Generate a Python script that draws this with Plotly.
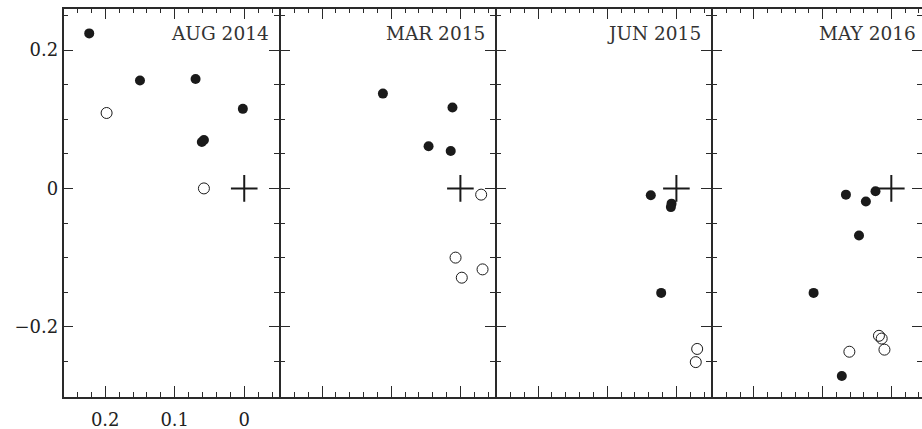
import plotly.graph_objects as go

W, H = 922, 429

panels = ["AUG 2014", "MAR 2015", "JUN 2015", "MAY 2016"]

filled_x = [
    [0.223, 0.150, 0.070, 0.002, 0.061, 0.058],
    [0.112, 0.0115, 0.046, 0.014],
    [0.037, 0.007, 0.008, 0.022],
    [0.066, 0.037, 0.023, 0.047, 0.113, 0.072],
]
filled_y = [
    [0.224, 0.156, 0.158, 0.115, 0.067, 0.070],
    [0.137, 0.117, 0.061, 0.054],
    [-0.010, -0.022, -0.027, -0.151],
    [-0.009, -0.019, -0.004, -0.068, -0.151, -0.271],
]
open_x = [
    [0.198, 0.058],
    [-0.030, 0.007, -0.032, -0.002],
    [-0.030, -0.028],
    [0.061, 0.018, 0.014, 0.010],
]
open_y = [
    [0.109, 0.000],
    [-0.009, -0.100, -0.117, -0.129],
    [-0.232, -0.251],
    [-0.236, -0.213, -0.217, -0.233],
]
center_x = [0.0, 0.0, 0.0, 0.0]
center_y = [0.0, 0.0, 0.0, 0.0]

x_ranges = [[0.26, -0.05], [0.26, -0.05], [0.26, -0.05], [0.26, -0.0446]]
y_range = [-0.301, 0.26]

LW = 1.5
starts_px = [63.5, 279.0 + LW, 495.0 + LW, 711.0 + LW]
ends_px = [279.0, 495.0, 711.0, 922.0]
y_dom = [(H - 396.7) / H, (H - 8.5) / H]

ink = "#1a1a1a"
axc = "#2a2a2a"
font = dict(family="DejaVu Serif", size=18, color="#222222")

fig = go.Figure()
layout = dict(
    width=W, height=H,
    margin=dict(l=0, r=0, t=0, b=0),
    paper_bgcolor="white", plot_bgcolor="white",
    showlegend=False,
    font=font,
)
annotations = []
for i in range(4):
    xa = "x" if i == 0 else f"x{i+1}"
    ya = "y" if i == 0 else f"y{i+1}"
    fig.add_trace(go.Scatter(
        x=filled_x[i], y=filled_y[i], mode="markers", xaxis=xa, yaxis=ya,
        marker=dict(symbol="circle", size=10, color=ink, line=dict(width=0)),
    ))
    fig.add_trace(go.Scatter(
        x=open_x[i], y=open_y[i], mode="markers", xaxis=xa, yaxis=ya,
        marker=dict(symbol="circle-open", size=11, color=ink, line=dict(width=1, color=ink)),
    ))
    fig.add_trace(go.Scatter(
        x=[center_x[i]], y=[center_y[i]], mode="markers", xaxis=xa, yaxis=ya,
        marker=dict(symbol="cross-thin", size=19, color=ink, line=dict(width=2, color=ink)),
    ))
    xkey = "xaxis" if i == 0 else f"xaxis{i+1}"
    ykey = "yaxis" if i == 0 else f"yaxis{i+1}"
    layout[xkey] = dict(
        domain=[starts_px[i] / W, ends_px[i] / W],
        range=x_ranges[i], anchor=ya,
        showgrid=False, zeroline=False,
        showline=True, linecolor=axc, linewidth=LW, mirror="ticks",
        ticks="inside", ticklen=11, tickwidth=1, tickcolor=axc,
        tick0=0, dtick=0.1,
        minor=dict(dtick=0.02, tick0=0, ticks="inside", ticklen=5, tickwidth=1, tickcolor=axc, showgrid=False),
        showticklabels=(i == 0), automargin=False,
        ticklabelstandoff=6,
        tickfont=font,
    )
    layout[ykey] = dict(
        domain=y_dom, range=y_range, anchor=xa,
        showgrid=False, zeroline=False,
        showline=True, linecolor=axc, linewidth=LW, mirror="ticks",
        ticks="inside", ticklen=10, tickwidth=1, tickcolor=axc,
        tick0=0, dtick=0.2,
        minor=dict(dtick=0.05, tick0=0, ticks="inside", ticklen=5, tickwidth=1, tickcolor=axc, showgrid=False),
        showticklabels=(i == 0), automargin=False,
        tickfont=font,
    )
    annotations.append(dict(
        text=panels[i], xref=f"{xa} domain", yref="paper",
        x=1, y=1 - 33.5 / H, xanchor="right", yanchor="middle",
        xshift=(-8 if i < 3 else -4), showarrow=False,
        font=dict(family="DejaVu Serif", size=18.5, color="#333333"),
    ))
layout["annotations"] = annotations
fig.update_layout(**layout)
fig.write_html(
    "out.html",
    config={"displayModeBar": False},
    post_script="document.body.style.margin='0px';document.body.style.overflow='hidden';",
)
